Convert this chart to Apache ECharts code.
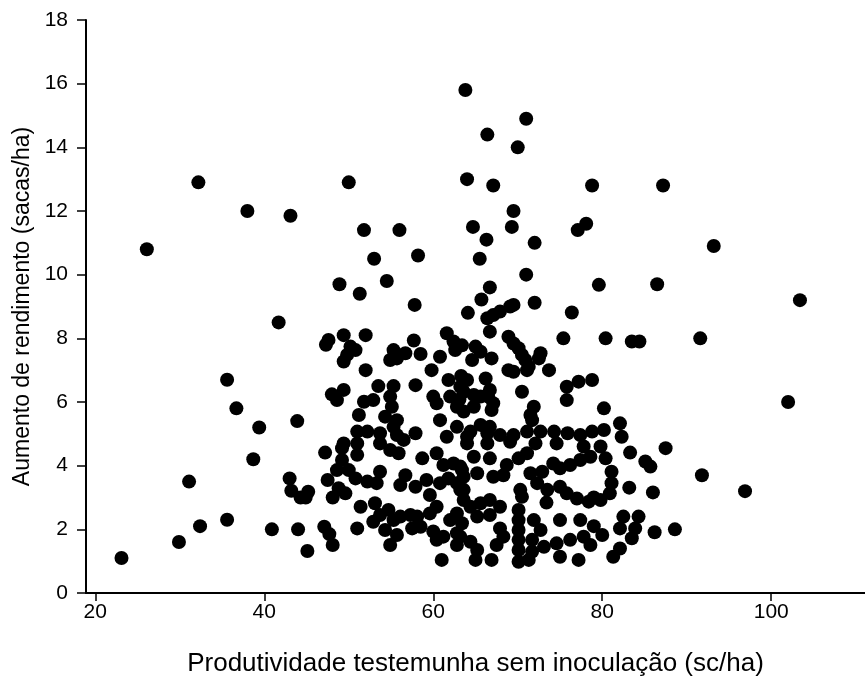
<!DOCTYPE html>
<html>
<head>
<meta charset="utf-8">
<script src="https://cdn.jsdelivr.net/npm/echarts@6/dist/echarts.min.js"></script>
<style>html,body{margin:0;padding:0;background:#fff}#c{width:865px;height:687px}</style>
</head>
<body>
<div id="c"></div>
<script>
const xTitle = 'Produtividade testemunha sem inoculação (sc/ha)';
const yTitle = 'Aumento de rendimento (sacas/ha)';
const xTickLabels = [20, 40, 60, 80, 100];
const yTickLabels = [0, 2, 4, 6, 8, 10, 12, 14, 16, 18];

const xValues = [
26.1,32.2,38.0,43.1,48.9,50.0,63.8,71.0,66.4,70.0,64.0,67.1,78.8,69.5,51.8,56.0,64.7,69.3,78.1,77.1,
66.3,72.0,53.0,58.2,65.5,71.0,51.3,54.5,66.7,65.7,79.6,57.8,72.0,87.2,93.2,86.5,103.4,91.6,102.0,91.8,
96.9,23.1,29.9,32.4,31.1,35.6,35.6,36.7,39.4,38.7,41.7,43.9,40.9,44.0,45.1,43.0,43.2,44.3,45.2,44.9,
47.2,47.5,48.1,47.1,47.7,48.1,47.3,47.6,48.0,48.6,
64.1,49.4,52.0,57.7,61.6,62.4,62.6,60.8,50.2,50.8,49.8,49.4,55.3,56.7,54.9,55.7,58.5,59.8,52.0,57.9,
61.8,63.3,53.5,55.3,49.4,52.9,51.8,54.9,55.1,60.0,60.4,62.0,63.1,62.8,51.2,54.3,55.7,55.3,57.9,60.8,
62.8,61.6,51.0,52.2,53.7,55.7,56.5,49.4,
76.4,66.4,67.1,67.9,69.1,69.5,66.7,75.4,68.9,69.5,70.1,70.5,70.9,72.7,72.5,63.4,65.0,65.6,64.6,66.9,
68.9,69.5,71.1,71.3,73.7,64.0,66.2,63.2,63.6,64.8,65.6,66.7,66.5,67.1,66.9,70.5,75.8,77.2,78.8,75.8,
63.6,64.8,71.9,71.5,71.7,65.6,66.7,64.4,64.0,66.4,67.9,69.5,71.1,72.7,74.3,75.9,77.4,78.8,
80.4,83.5,84.4,80.2,80.2,82.1,82.3,79.8,87.5,
80.4,83.3,85.1,85.7,78.6,81.1,81.1,80.9,79.8,79.0,83.2,86.0,82.5,84.3,82.1,83.9,86.2,88.6,83.5,79.0,
80.0,78.6,82.1,81.3,
49.2,51.0,53.7,54.9,55.9,51.0,49.2,50.0,48.6,58.7,60.4,61.2,62.4,63.4,50.8,52.2,53.7,53.3,56.7,56.1,
57.9,59.2,60.8,59.6,60.4,61.8,62.8,63.6,48.8,49.6,51.4,53.1,53.7,52.9,54.7,55.3,56.1,57.3,58.1,57.5,
58.5,54.3,54.9,55.7,51.0,59.6,62.0,62.8,63.4,60.0,60.4,61.2,62.8,62.8,61.0,
64.0,66.4,69.1,72.1,74.6,77.8,64.8,66.7,68.7,70.1,71.1,71.5,72.9,74.2,75.0,76.2,77.4,63.2,63.6,65.2,
67.1,68.3,70.3,70.5,72.3,73.5,75.0,75.8,77.0,78.4,73.4,63.2,63.6,64.4,65.6,66.7,67.9,66.7,65.2,
70.1,70.1,70.1,70.1,70.1,70.1,71.9,72.7,71.7,73.1,71.7,75.0,77.4,67.9,68.3,67.5,63.2,64.4,65.2,65.0,
66.9,74.6,76.2,77.8,75.0,77.2,71.3
];
const yValues = [
10.8,12.9,12.0,11.85,9.7,12.9,15.8,14.9,14.4,14.0,13.0,12.8,12.8,12.0,11.4,11.4,11.5,11.5,11.6,11.4,
11.1,11.0,10.5,10.6,10.5,10.0,9.4,9.8,9.6,9.22,9.68,9.05,9.12,12.8,10.9,9.7,9.2,8.0,6.0,3.7,
3.2,1.1,1.6,2.1,3.5,2.3,6.7,5.8,5.2,4.2,8.5,5.4,2.0,2.0,1.32,3.6,3.21,3.0,3.18,3.0,
4.41,3.55,3.0,2.08,1.85,1.51,7.8,7.95,6.24,6.06,
8.8,8.1,8.1,7.93,8.16,7.9,7.63,7.42,7.74,7.63,7.48,7.27,7.63,7.53,7.32,7.37,7.51,7.0,7.0,6.53,
6.69,6.82,6.5,6.5,6.38,6.06,6.01,6.17,5.85,6.17,5.96,6.17,6.08,5.85,5.59,5.54,5.43,5.22,5.02,5.43,
5.22,4.91,5.07,5.07,5.02,4.96,4.81,4.7,
8.81,8.63,8.73,8.84,9.0,9.05,8.21,8.0,8.05,7.84,7.69,7.48,7.32,7.53,7.37,7.78,7.74,7.58,7.32,7.37,
7.0,6.95,7.0,7.11,7.0,6.69,6.74,6.48,6.32,6.22,6.17,6.38,6.17,5.96,5.75,6.32,6.48,6.64,6.69,6.06,
5.7,5.85,5.85,5.59,5.43,5.28,5.22,5.07,4.91,5.02,4.96,4.96,5.07,5.07,5.07,5.02,4.96,5.07,
8.0,7.9,7.9,5.8,5.12,5.33,4.91,4.6,4.55,
4.23,4.41,4.13,3.97,4.28,3.81,3.45,3.13,2.92,3.0,3.31,3.16,2.4,2.4,2.03,2.03,1.91,2.0,1.72,2.1,
1.82,1.51,1.4,1.14,
4.55,4.7,4.7,4.49,4.39,4.34,4.18,3.86,3.86,4.23,4.39,4.02,4.07,3.86,3.6,3.5,3.81,3.45,3.7,3.39,
3.34,3.55,3.45,3.08,2.71,3.6,3.45,3.24,3.29,3.13,2.71,2.82,2.45,2.24,2.61,2.29,2.4,2.45,2.4,2.03,
2.08,1.98,1.51,1.82,2.03,2.5,2.29,2.5,2.19,1.93,1.67,1.77,1.88,1.51,1.04,
4.7,4.7,4.75,4.7,4.7,4.6,4.28,4.23,4.02,4.23,4.39,3.76,3.81,4.07,3.92,4.02,4.18,3.97,3.65,3.76,
3.65,3.7,3.24,3.02,3.45,3.24,3.34,3.13,2.97,2.87,2.84,3.24,2.92,2.71,2.82,2.92,2.71,2.45,2.4,
2.61,2.29,1.98,1.67,1.35,0.98,2.29,1.98,1.67,1.45,1.3,2.29,2.29,2.03,1.77,1.51,1.77,1.61,1.35,1.04,
1.04,1.56,1.67,1.77,1.14,1.04,1.04
];

const points = xValues.map((x, i) => [x, yValues[i]]);
const font = 'Liberation Sans, Arial, sans-serif';

const chart = echarts.init(document.getElementById('c'), null, {renderer: 'canvas'});
chart.setOption({
  animation: false,
  backgroundColor: '#ffffff',
  grid: {left: 86, top: 20, right: 0, bottom: 94, containLabel: false},
  xAxis: {
    type: 'value',
    min: 18.9,
    max: 111.1,
    name: xTitle,
    nameLocation: 'middle',
    nameGap: 58,
    nameTextStyle: {fontFamily: font, fontSize: 26, color: '#000'},
    splitLine: {show: false},
    axisLine: {show: true, onZero: false, lineStyle: {color: '#000', width: 2}},
    axisTick: {show: true, inside: false, length: 8, customValues: xTickLabels, lineStyle: {color: '#000', width: 1.5}},
    axisLabel: {customValues: xTickLabels, margin: 9, fontFamily: font, fontSize: 21, color: '#000'}
  },
  yAxis: {
    type: 'value',
    min: 0,
    max: 18,
    interval: 2,
    name: yTitle,
    nameLocation: 'middle',
    nameGap: 52,
    nameTextStyle: {fontFamily: font, fontSize: 23, color: '#000'},
    splitLine: {show: false},
    axisLine: {show: true, lineStyle: {color: '#000', width: 2}},
    axisTick: {show: true, inside: false, length: 9, lineStyle: {color: '#000', width: 1.5}},
    axisLabel: {margin: 18, fontFamily: font, fontSize: 21, color: '#000',
      formatter: v => yTickLabels.indexOf(v) >= 0 ? String(v) : ''}
  },
  series: [{
    type: 'scatter',
    data: points,
    symbol: 'circle',
    symbolSize: 14,
    itemStyle: {color: '#000', opacity: 1},
    clip: false
  }]
});
</script>
</body>
</html>
